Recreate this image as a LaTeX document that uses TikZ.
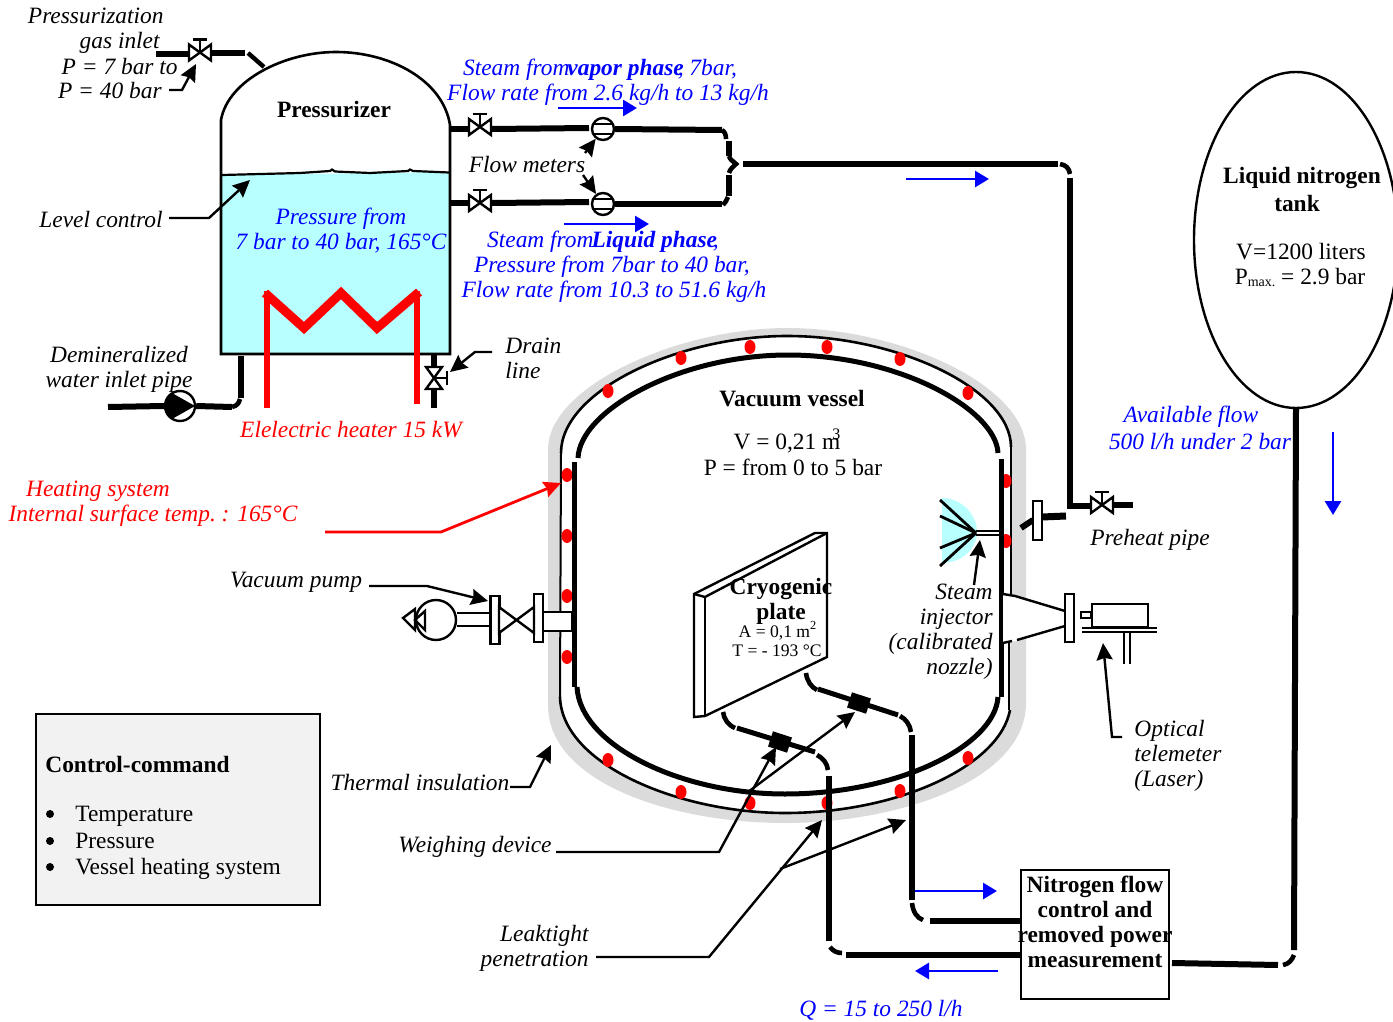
\documentclass[tikz,border=0pt]{standalone}
\usepackage{fontspec}
\setmainfont{Liberation Serif}
\usepackage{xcolor}
\usetikzlibrary{shapes.geometric, arrows.meta, calc}
\definecolor{cWater}{RGB}{184,255,255}
\definecolor{cBlue}{RGB}{0,0,255}
\definecolor{cRed}{RGB}{255,0,0}
\definecolor{cInsul}{RGB}{219,219,219}
\definecolor{cPanel}{RGB}{242,242,242}
\tikzset{
	txt/.style      ={font=\fontsize{11.7}{12.5}\selectfont, inner sep=0pt, align=center},
	lbl/.style      ={font=\fontsize{11.7}{12.5}\selectfont\itshape, inner sep=0pt, align=center},
	hdr/.style      ={font=\fontsize{11.7}{12.5}\selectfont\bfseries, inner sep=0pt, align=center},
	tiny8/.style    ={font=\fontsize{8.8}{10}\selectfont, inner sep=0pt, align=center},
	pipe/.style     ={line width=3pt},
	elbow/.style    ={line width=2.3pt},
	wall/.style     ={line width=1.3pt},
	lead/.style     ={line width=1.2pt, -{Stealth[length=8.5pt, width=8pt, inset=1pt]}},
	flow/.style     ={line width=1.4pt, cBlue, -{Triangle[length=7pt, width=8pt]}},
	heat/.style     ={line width=1.4pt, cRed, -{Stealth[length=8.5pt, width=8pt, inset=1pt]}},
	fmeter/.style   ={circle, draw=black, line width=1.2pt, fill=white, minimum size=11pt, inner sep=0pt},
	sdot/.style     ={ellipse, fill=cRed, minimum width=5.5pt, minimum height=7pt, inner sep=0pt},
	flange/.style   ={rectangle, draw=black, line width=1.1pt, fill=white, minimum width=4.5pt, minimum height=24pt, inner sep=0pt},
	wblock/.style   ={rectangle, fill=black, minimum width=10pt, minimum height=8pt, inner sep=0pt},
	gate/.pic={
		\draw[line width=1.2pt, fill=white] (-11,-8) -- (11,8) -- (11,-8) -- (-11,8) -- cycle;
		\draw[line width=1.2pt] (0,0) -- (0,-13);
		\draw[line width=1.2pt] (-7,-13) -- (7,-13);
	},
}
\begin{document}
\begin{tikzpicture}[x=0.5pt, y=-0.5pt]
	\useasboundingbox (0,0) rectangle (1393,1022);

	% pressurizer
	\fill[cWater] (222,175) -- (449,172) -- (449,354) -- (222,354) -- cycle;
	\draw[wall] (221,354) -- (221,120) .. controls (228,80) and (285,52) .. (336,52) .. controls (390,52) and (443,80) .. (450,125) -- (450,354) -- cycle;
	\draw[line width=1.1pt] (222,175) -- (300,173) -- (330,171) -- (332,169.5) -- (335,171.5) -- (370,173) -- (408,171) -- (410,169.5) -- (413,171) -- (449,172.5);
	\node[hdr] (przr) at (334,110) {Pressurizer};
	\node[lbl, text=cBlue] (przrP) at (341,231) {Pressure from\\ 7 bar to 40 bar, 165°C};

	% electric heater
	\draw[line width=3pt, cRed] (267,291) -- (267,408);
	\draw[line width=3pt, cRed] (417,291) -- (417,404);
	\draw[line width=4.5pt, cRed, line join=miter] (265,293) -- (304,328) -- (341,293) -- (377,328) -- (419,292);
	\node[lbl, text=cRed] (heater) at (351,430) {Elelectric heater 15 kW};

	% gas inlet
	\coordinate (vGas) at (200,52.5);
	\draw[pipe] (156,54) -- (188,54);
	\draw[pipe] (212,53) -- (245,53);
	\draw[line width=2.2pt] (248,53) -- (264,67);
	\pic at (vGas) {gate};
	\node[lbl, anchor=base east] (gas1) at (164,24) {Pressurization};
	\node[lbl, anchor=base east] (gas2) at (160,49) {gas inlet};
	\node[lbl, anchor=base east] (gas3) at (178,75) {P = 7 bar to};
	\node[lbl, anchor=base east] (gas4) at (162,99) {P = 40 bar};
	\coordinate (gasTip) at (196,64);
	\draw[lead] (169,90) -- (182,90) -- (gasTip);

	% level control
	\node[lbl, anchor=east] (lvl) at (163,219) {Level control};
	\coordinate (lvlTip) at (250,180);
	\draw[lead] (169,218) -- (209,218) -- (lvlTip);

	% water inlet
	\node[lbl] (water) at (119,369) {Demineralized\\ water inlet pipe};
	\node[circle, draw=black, line width=1.2pt, fill=white, minimum size=15pt, inner sep=0pt] (wpump) at (180,406) {};
	\fill (166,399) -- (172,393) -- (195,406) -- (172,419) -- (166,413) -- cycle;
	\draw[pipe] (108,407) -- (wpump.west);
	\draw[pipe] (wpump.east) -- (232,407);
	\draw[elbow] (232,407) .. controls (237,406) and (239,403) .. (240,399);
	\draw[pipe] (241,398) -- (241,356);

	% drain
	\coordinate (vDrain) at (434,378);
	\draw[pipe] (434,355) -- (434,368);
	\draw[pipe] (434,388) -- (434,408);
	\pic[rotate=-90] at (vDrain) {gate};
	\node[lbl, anchor=west, align=left] (drain) at (505,358) {Drain\\ line};
	\coordinate (drainTip) at (450,372);
	\draw[lead] (492,352) -- (475,352) -- (drainTip);

	% steam lines
	\coordinate (vVap) at (480,127);
	\coordinate (vLiq) at (480,203);
	\node[fmeter] (fmVap) at (603,129) {};
	\node[fmeter] (fmLiq) at (603,204) {};
	\draw[line width=1pt] ($(fmVap)+(-10,-5)$) -- +(20,0);
	\draw[line width=1pt] ($(fmVap)+(-10,5)$) -- +(20,0);
	\draw[line width=1pt] ($(fmLiq)+(-10,-5)$) -- +(20,0);
	\draw[line width=1pt] ($(fmLiq)+(-10,5)$) -- +(20,0);
	\draw[pipe] (451,129) -- (468,129);
	\draw[pipe] (492,129) -- (589,128);
	\draw[pipe] (451,203) -- (468,203);
	\draw[pipe] (492,203) -- (589,202);
	\pic at (vVap) {gate};
	\pic at (vLiq) {gate};
	\draw[pipe] (fmVap.east) -- (722,130);
	\draw[pipe] (fmLiq.east) -- (722,204);
	\draw[elbow] (722,130) .. controls (725,132) and (726,135) .. (726,139);
	\draw[pipe] (729,141) -- (729,156);
	\draw[elbow] (729,156) .. controls (730,160) and (733,161) .. (736,164) .. controls (733,167) and (730,169) .. (729,173);
	\draw[pipe] (729,175) -- (729,196);
	\draw[elbow] (728,197) .. controls (727,200) and (725,203) .. (723,205);
	\draw[pipe] (743,164) -- (1058,164);
	\draw[elbow] (1060,164) .. controls (1066,165) and (1069,168) .. (1070,174);
	\draw[pipe] (1070,178) -- (1070,509);
	\draw[pipe] (1069,506) -- (1090,506);
	\draw[pipe] (1114,505) -- (1133,505);
	\coordinate (vPre) at (1102,505);
	\pic at (vPre) {gate};
	\node[lbl] (preheat) at (1150,540) {Preheat pipe};

	\node[lbl, text=cBlue] (stV1) at (600,70) {Steam from\hspace{-1pt}\textbf{vapor phase}\hspace{-3pt}, 7bar,};
	\node[lbl, text=cBlue] (stV2) at (608,95) {Flow rate from 2.6 kg/h to 13 kg/h};
	\node[lbl] (fmLbl) at (527,164) {Flow meters};
	\node[lbl, text=cBlue] (stL1) at (603,242) {Steam from\hspace{-1pt}\textbf{Liquid phase}\hspace{-2pt},};
	\node[lbl, text=cBlue] (stL2) at (612,267) {Pressure from 7bar to 40 bar,};
	\node[lbl, text=cBlue] (stL3) at (614,292) {Flow rate from 10.3 to 51.6 kg/h};
	\draw[lead] (585,153) -- (fmVap);
	\draw[lead] (583,175) -- (fmLiq);
	\draw[flow] (558,108) -- (637,108);
	\draw[flow] (564,224) -- (649,224);
	\draw[flow] (906,179) -- (989,179);

	% vacuum vessel
	\fill[cInsul] (548,448) .. controls (550,385) and (680,328) .. (787,328) .. controls (900,328) and (1024,385) .. (1026,448) -- (1026,703) .. controls (1026,780) and (900,823) .. (785,823) .. controls (670,823) and (548,782) .. (548,705) -- cycle;
	\fill[white] (561,453) .. controls (561,390) and (680,336) .. (787,336) .. controls (900,336) and (1011,390) .. (1011,447) -- (1010,710) .. controls (1000,765) and (900,813) .. (785,813) .. controls (680,813) and (562,765) .. (560,697) -- cycle;
	\draw[wall] (561,453) .. controls (561,390) and (680,336) .. (787,336) .. controls (900,336) and (1011,390) .. (1011,447);
	\draw[line width=1pt] (561,453) -- (560,697);
	\draw[line width=1pt] (1011,447) -- (1011,595);
	\draw[line width=1pt] (1009,642) -- (1009,710);
	\draw[wall] (1010,710) .. controls (1000,765) and (900,813) .. (785,813) .. controls (680,813) and (562,765) .. (560,697);

	% heating spots
	\node[sdot] (d1) at (567,475) {};
	\node[sdot] (d2) at (567,536) {};
	\node[sdot] (d3) at (567,596) {};
	\node[sdot] (d4) at (567,657) {};
	\node[sdot] (d5) at (608,391) {};
	\node[sdot] (d6) at (681,358) {};
	\node[sdot] (d7) at (750,347) {};
	\node[sdot] (d8) at (827,347) {};
	\node[sdot] (d9) at (900,359) {};
	\node[sdot] (d10) at (968,393) {};
	\node[sdot] (d11) at (1006,481) {};
	\node[sdot] (d12) at (1006,541) {};
	\node[sdot] (d13) at (608,760) {};
	\node[sdot] (d14) at (681,792) {};
	\node[sdot] (d15) at (750,803) {};
	\node[sdot] (d16) at (827,803) {};
	\node[sdot] (d17) at (900,791) {};
	\node[sdot] (d18) at (968,758) {};

	\draw[line width=2.5pt] (578,458) .. controls (580,410) and (680,355) .. (788,355) .. controls (900,355) and (996,410) .. (998,453);
	\draw[line width=2.5pt] (574,462) -- (574,687);
	\draw[line width=2.5pt] (1001,459) -- (1001,697);
	\draw[line width=2.5pt] (577,687) .. controls (580,745) and (680,794) .. (785,794) .. controls (900,794) and (995,745) .. (998,697);
	\node[hdr] (vessel) at (792,399) {Vacuum vessel};
	\node[txt] (vVol) at (787,441) {V = 0,21 m\hspace{-4pt}\raisebox{5pt}{\fontsize{8}{9}\selectfont 3}};
	\node[txt] (vPres) at (793,467.5) {P = from 0 to 5 bar};

	% vacuum pump side
	\node[lbl] (vacLbl) at (296,582) {Vacuum pump};
	\node[circle, draw=black, line width=1.2pt, fill=white, minimum size=20pt, inner sep=0pt] (vpump) at (436,620) {};
	\draw[line width=1.2pt] (403,618) -- (415,609) -- (415,630) -- cycle;
	\draw[line width=1.2pt] (415,620) -- (425,611) -- (425,630) -- cycle;
	\node[flange] (fl1) at (495,620) {};
	\node[flange] (fl2) at (538.5,618) {};
	\draw[line width=1.2pt] (vpump.east |- 0,613) -- (fl1.west |- 0,613);
	\draw[line width=1.2pt] (vpump.east |- 0,626) -- (fl1.west |- 0,626);
	\draw[line width=1.2pt, fill=white] (499,607) -- (534,633) -- (534,607) -- (499,633) -- cycle;
	\draw[line width=1.2pt, fill=white] (543,612) rectangle (572,631);
	\coordinate (vacTip) at (488,601);
	\draw[lead] (369,586) -- (427,586) -- (vacTip);

	% heating system label
	\node[lbl, text=cRed] (heatA) at (98,491) {Heating system};
	\node[lbl, text=cRed] (heatB) at (153,516) {Internal surface temp.\hspace{-1pt} : 165°C};
	\coordinate (heatTip) at (561,483);
	\draw[heat] (325,532) -- (441,532) -- (heatTip);

	% cryogenic plate
	\draw[line width=1.2pt, fill=white] (694,594) -- (815,533) -- (827,533) -- (827,657) -- (705,716) -- (694,717) -- cycle;
	\draw[line width=1.2pt] (694,594) -- (705,597) -- (827,533);
	\draw[line width=1.2pt] (705,597) -- (705,716);
	\node[hdr] (plate) at (781,601) {Cryogenic\\ plate};
	\node[tiny8] (plateA) at (778,631) {A = 0,1 m\textsuperscript{2}};
	\node[tiny8] (plateT) at (777,651) {T = - 193 °C};

	% steam injector
	\fill[cWater] (942,498) .. controls (962,498) and (977,515) .. (977,532) .. controls (977,548) and (962,563) .. (942,563) -- cycle;
	\coordinate (noz) at (976,533);
	\draw[line width=1.4pt] (noz) -- (940,500);
	\draw[line width=1.4pt] (noz) -- (940,516);
	\draw[line width=1.4pt] (noz) -- (940,548);
	\draw[line width=1.4pt] (noz) -- (940,566);
	\draw[line width=0.9pt] (976,531) -- (999,531);
	\draw[line width=0.9pt] (976,535) -- (999,535);
	\node[lbl, anchor=east, align=right] (injLbl) at (993,631.5) {Steam\\ injector\\ (calibrated\\ nozzle)};
	\draw[lead] (974,585) -- (980,540);

	% preheat port
	\draw[pipe] (1021,528) -- (1033,520);
	\draw[line width=3.5pt] (1042,517) -- (1066,516);
	\node[flange, minimum height=19.5pt] (fl3) at (1037.5,520.5) {};

	% telemeter
	\fill[white] (1003,594) -- (1015,596) -- (1065,611) -- (1065,626) -- (1017,641) -- (1003,643) -- cycle;
	\draw[line width=1.2pt] (1003,594) -- (1015,596) -- (1065,611);
	\draw[line width=1.2pt] (1065,626) -- (1017,640);
	\draw[line width=1.2pt] (1003,643) -- (1012,641);
	\node[flange] (fl4) at (1069.5,618) {};
	\draw[line width=1.2pt] (1092,604) rectangle (1148,627);
	\draw[line width=1pt] (1081,612) rectangle (1091,618);
	\draw[line width=1pt] (1082,628) -- (1157,628);
	\draw[line width=1pt] (1082,632) -- (1157,632);
	\draw[line width=1pt] (1124,632) -- (1124,664);
	\draw[line width=1pt] (1130,632) -- (1130,664);
	\node[lbl, anchor=west, align=left] (optLbl) at (1134,756) {Optical\\ telemeter\\ (Laser)};
	\coordinate (optTip) at (1103,643);
	\draw[lead] (1122,737) -- (1112,737) -- (optTip);

	% tank
	\node[ellipse, draw=black, line width=1.2pt, fill=white, minimum width=102pt, minimum height=168pt, inner sep=0pt] (tank) at (1296,240) {};
	\node[hdr] (tankA) at (1302,178) {Liquid nitrogen};
	\node[hdr] (tankB) at (1297,203) {tank};
	\node[txt] (tankV) at (1301,252) {V=1200 liters};
	\node[txt] (tankP) at (1300,277) {P\raisebox{-1pt}{\fontsize{7}{8}\selectfont max.} = 2.9 bar};
	\node[lbl, text=cBlue] (avail1) at (1191,417) {Available flow};
	\node[lbl, text=cBlue] (avail2) at (1200,442) {500 l/h under 2 bar};
	\draw[flow] (1333,432) -- (1333,515);

	% control box
	\node[rectangle, draw=black, line width=1.2pt, fill=white, minimum width=74pt, minimum height=64.5pt, inner sep=0pt] (nbox) at (1095,934.5) {};
	\node[hdr] (nboxT) at (1095,922) {Nitrogen flow\\ control and\\ removed power\\ measurement};
	\draw[pipe] (1172,963) -- (1278,965);
	\draw[elbow] (1283,965) .. controls (1289,964) and (1292,960) .. (1294,955);
	\draw[pipe] (tank.south) -- (1294,950);

	% cold loops
	\draw[elbow] (723,712) .. controls (724,719) and (728,725) .. (735,728);
	\draw[line width=2.5pt] (737,728) -- (815,752);
	\node[wblock, rotate=-18] (wb1) at (780,742) {};
	\draw[elbow] (817,755) .. controls (823,758) and (827,763) .. (828,770);
	\draw[pipe] (829,776) -- (829,941);
	\draw[elbow] (830,947) .. controls (833,951) and (837,953) .. (842,953);
	\draw[pipe] (846,955) -- (nbox.west |- 0,955);
	\draw[elbow] (806,673) .. controls (807,681) and (811,687) .. (817,690);
	\draw[line width=2.5pt] (818,689) -- (898,715);
	\node[wblock, rotate=-18] (wb2) at (859,703) {};
	\draw[elbow] (900,716) .. controls (906,719) and (910,725) .. (911,732);
	\draw[pipe] (912,735) -- (912,900);
	\draw[elbow] (912,903) .. controls (913,912) and (917,918) .. (923,920);
	\draw[pipe] (930,921) -- (nbox.west |- 0,921);
	\draw[flow] (915,891) -- (997,891);
	\draw[flow] (998,971) -- (915,971);
	\node[lbl, text=cBlue] (qLbl) at (881,1010) {Q = 15 to 250 l/h};

	% leaders
	\node[lbl] (thermal) at (420,783) {Thermal insulation};
	\coordinate (thermTip) at (551,745);
	\draw[lead] (510,787) -- (530,787) -- (thermTip);
	\node[lbl] (weigh) at (475,847) {Weighing device};
	\coordinate (weighTipA) at (776,747);
	\coordinate (weighTipB) at (855,712);
	\draw[lead] (556,852) -- (719,852) -- (weighTipA);
	\draw[lead] (748,792) -- (weighTipB);
	\node[lbl, anchor=east, align=right] (leak) at (589,948) {Leaktight\\ penetration};
	\coordinate (leakTipA) at (822,820);
	\coordinate (leakTipB) at (906,820);
	\draw[lead] (596,957) -- (709,957) -- (leakTipA);
	\draw[lead] (780,869) -- (leakTipB);

	% control-command panel
	\node[rectangle, draw=black, line width=1.2pt, fill=cPanel, minimum width=142pt, minimum height=95.5pt, inner sep=0pt] (panel) at (178,809.5) {};
	\node[hdr, anchor=west] (panelT) at (45,764) {Control-command};
	\node[circle, fill=black, minimum size=4pt, inner sep=0pt] (b1) at (50,814) {};
	\node[circle, fill=black, minimum size=4pt, inner sep=0pt] (b2) at (50,841) {};
	\node[circle, fill=black, minimum size=4pt, inner sep=0pt] (b3) at (50,867) {};
	\node[txt, anchor=base west] (pA) at (75,821) {Temperature};
	\node[txt, anchor=base west] (pB) at (75,848) {Pressure};
	\node[txt, anchor=base west] (pC) at (75,874) {Vessel heating system};
\end{tikzpicture}
\end{document}
